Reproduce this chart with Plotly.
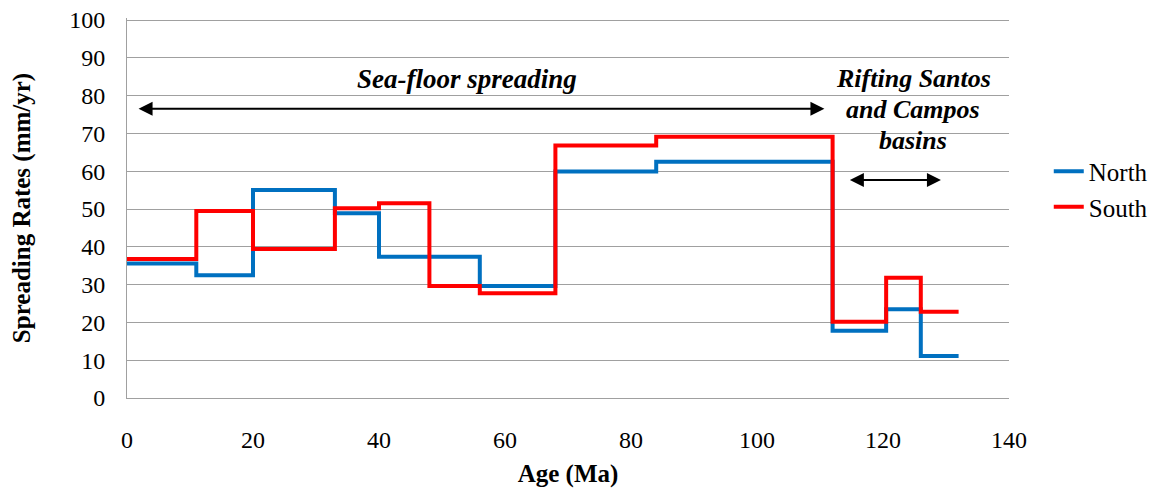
import plotly.graph_objects as go

north_age = [0, 11, 20, 33, 40, 56, 68, 84, 112, 120.5, 126, 132]
north_rate = [35.6, 32.5, 55.0, 48.9, 37.4, 29.6, 59.9, 62.5, 17.8, 23.5, 11.1, 11.1]
south_age = [0, 11, 20, 33, 40, 48, 56, 68, 84, 112, 120.5, 126, 132]
south_rate = [36.8, 49.5, 39.4, 50.2, 51.5, 29.6, 27.7, 66.8, 69.1, 20.2, 31.8, 22.8, 22.8]

FONT = "Liberation Serif, Times New Roman, serif"

fig = go.Figure()
fig.add_trace(go.Scatter(x=north_age, y=north_rate, mode="lines", name="North",
                         line=dict(color="#0070C0", width=4, shape="hv")))
fig.add_trace(go.Scatter(x=south_age, y=south_rate, mode="lines", name="South",
                         line=dict(color="#FF0000", width=4, shape="hv")))

# arrows
for (x0, x1, yv) in [(1.6, 110.7, 76.5), (114.5, 129.2, 57.7)]:
    fig.add_annotation(x=x1, y=yv, ax=x0, ay=yv, xref="x", yref="y", axref="x", ayref="y",
                       showarrow=True, arrowhead=2, arrowside="end+start", arrowsize=1.4,
                       arrowwidth=2, arrowcolor="black", text="")

fig.add_annotation(x=53.9, y=84.4, xref="x", yref="y", text="<b><i>Sea-floor spreading</i></b>",
                   showarrow=False, font=dict(family=FONT, size=27, color="black"))
for txt, yv in [("Rifting Santos", 84.4), ("and Campos", 76.2), ("basins", 68.0)]:
    fig.add_annotation(x=124.8, y=yv, xref="x", yref="y", text="<b><i>" + txt + "</i></b>",
                       showarrow=False, font=dict(family=FONT, size=26, color="black"))

# page body has an 8px default margin, so the figure is sized/offset accordingly
fig.update_layout(
    width=1155, height=487,
    margin=dict(l=119, r=150, t=10, b=97),
    plot_bgcolor="white", paper_bgcolor="white",
    font=dict(family=FONT, size=24, color="black"),
    showlegend=True,
    legend=dict(x=1.163, y=0.55, xanchor="right", yanchor="middle",
                font=dict(family=FONT, size=25), tracegroupgap=0),
    xaxis=dict(range=[0, 140], dtick=20, showgrid=False, showline=True, automargin=False,
               linecolor="#a0a0a0", linewidth=1, ticks="outside", ticklen=20,
               tickcolor="rgba(0,0,0,0)", zeroline=False, ticklabeloverflow="allow",
               title=dict(text="<b>Age (Ma)</b>", font=dict(family=FONT, size=25), standoff=12),
               tickfont=dict(family=FONT, size=24)),
    yaxis=dict(range=[0, 100.53], tickvals=[0, 10, 20, 30, 40, 50, 60, 70, 80, 90, 100],
               showgrid=True, gridcolor="#a0a0a0", gridwidth=1,
               showline=True, linecolor="#a0a0a0", linewidth=1, ticks="outside", ticklen=16,
               tickcolor="rgba(0,0,0,0)", zeroline=False, automargin=False,
               ticklabeloverflow="allow",
               title=dict(text="<b>Spreading Rates (mm/yr)</b>", font=dict(family=FONT, size=25), standoff=32),
               tickfont=dict(family=FONT, size=24)),
)

fig.write_html("out.html")
